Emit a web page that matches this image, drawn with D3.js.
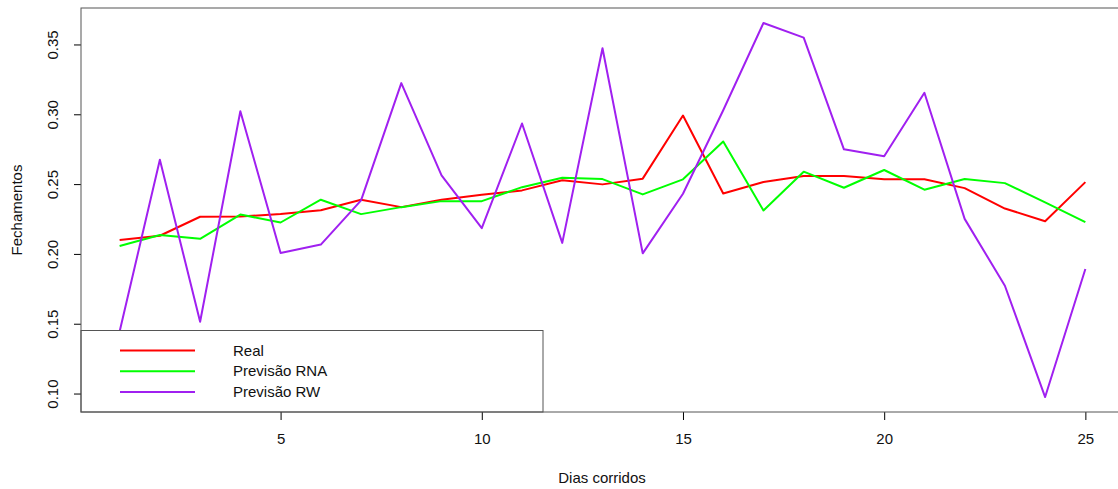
<!DOCTYPE html>
<html>
<head>
<meta charset="utf-8">
<script src="https://cdn.jsdelivr.net/npm/d3@7"></script>
<style>
  body { margin: 0; background: #fff; }
  svg { display: block; font-family: "Liberation Sans", Arial, sans-serif; }
</style>
</head>
<body>
<script>
var w = 1118;
var h = 489;

var dias = d3.range(1, 26);
var real = [0.210, 0.213, 0.2266, 0.2268, 0.2285, 0.2313, 0.2388, 0.2335, 0.2388, 0.2424,
    0.2455, 0.2527, 0.2498, 0.2539, 0.2991, 0.2433, 0.2515, 0.2558, 0.2558, 0.2534,
    0.2534, 0.2471, 0.2325, 0.2234, 0.2514];
var previsaoRNA = [0.2057, 0.2136, 0.2108, 0.2282, 0.2225, 0.2388, 0.2285, 0.2335, 0.2378, 0.2378,
    0.2478, 0.2546, 0.2536, 0.2426, 0.2534, 0.2805, 0.2311, 0.2589, 0.2474, 0.2601,
    0.2460, 0.2536, 0.2507, 0.2369, 0.2227];
var previsaoRW = [0.1445, 0.2675, 0.1514, 0.3022, 0.2007, 0.2067, 0.2383, 0.3223, 0.2562, 0.2184,
    0.2934, 0.2079, 0.3473, 0.2004, 0.2431, 0.3029, 0.3654, 0.3549, 0.2749, 0.2699,
    0.3154, 0.2251, 0.1772, 0.0975, 0.1892];
var xTicks = [5, 10, 15, 20, 25];
var yTicks = [0.10, 0.15, 0.20, 0.25, 0.30, 0.35];
var series = [
    {name: "Real", values: real, color: "#ff0000"},
    {name: "Previsão RNA", values: previsaoRNA, color: "#00ff00"},
    {name: "Previsão RW", values: previsaoRW, color: "#a020f0"}
];

// plot region like R's par defaults
var pLeft = 81, pTop = 8, pRight = 1124, pBottom = 412;

var all = real.concat(previsaoRNA, previsaoRW);
var yMin = d3.min(all), yMax = d3.max(all);
var yPad = (yMax - yMin) * 0.04;
var xPad = (25 - 1) * 0.04;

var x = d3.scaleLinear().domain([1 - xPad, 25 + xPad]).range([pLeft, pRight]);
var y = d3.scaleLinear().domain([yMin - yPad, yMax + yPad]).range([pBottom, pTop]);

var svg = d3.select("body")
    .append("svg")
    .attr("width", w)
    .attr("height", h);

svg.append("defs").append("clipPath")
    .attr("id", "plotclip")
    .append("rect")
    .attr("x", pLeft).attr("y", pTop)
    .attr("width", pRight - pLeft).attr("height", pBottom - pTop);

var line = d3.line()
    .x(function (d, i) { return x(dias[i]); })
    .y(function (d) { return y(d); });

var plot = svg.append("g").attr("clip-path", "url(#plotclip)");
plot.selectAll("path")
    .data(series)
    .enter()
    .append("path")
    .attr("d", function (d) { return line(d.values); })
    .attr("fill", "none")
    .attr("stroke", function (d) { return d.color; })
    .attr("stroke-width", 2)
    .attr("stroke-linejoin", "round");

// legend (white box over the lines, bottom-left)
var legTop = 330.5, legRight = 543;
var leg = svg.append("g");
leg.append("rect")
    .attr("x", pLeft).attr("y", legTop)
    .attr("width", legRight - pLeft).attr("height", pBottom - legTop)
    .attr("fill", "#fff")
    .attr("stroke", "#555")
    .attr("stroke-width", 1);
var legItems = leg.selectAll("g.item")
    .data(series)
    .enter()
    .append("g")
    .attr("class", "item")
    .attr("transform", function (d, i) { return "translate(0," + (350.5 + i * 20.7) + ")"; });
legItems.append("line")
    .attr("x1", 120).attr("x2", 195)
    .attr("stroke", function (d) { return d.color; })
    .attr("stroke-width", 2);
legItems.append("text")
    .attr("x", 233).attr("dy", "0.35em")
    .attr("font-size", 15)
    .attr("fill", "#111")
    .text(function (d) { return d.name; });

// axes
var xAxis = d3.axisBottom(x).tickValues(xTicks).tickSize(8).tickPadding(13).tickFormat(d3.format("d"));
var gx = svg.append("g").attr("transform", "translate(0," + pBottom + ")").call(xAxis);
gx.select(".domain").remove();
gx.selectAll("text").attr("font-size", 15).attr("fill", "#111").attr("font-family", "Liberation Sans, Arial, sans-serif");

var yAxis = d3.axisLeft(y).tickValues(yTicks).tickSize(7).tickFormat(d3.format(".2f"));
var gy = svg.append("g").attr("transform", "translate(" + pLeft + ",0)").call(yAxis);
gy.select(".domain").remove();
gy.selectAll("text")
    .attr("font-size", 15)
    .attr("fill", "#111")
    .attr("font-family", "Liberation Sans, Arial, sans-serif")
    .attr("text-anchor", "middle")
    .attr("transform", "rotate(-90)")
    .attr("x", 0)
    .attr("y", -28)
    .attr("dy", "0.35em");

// frame
svg.append("rect")
    .attr("x", pLeft).attr("y", pTop)
    .attr("width", pRight - pLeft).attr("height", pBottom - pTop)
    .attr("fill", "none")
    .attr("stroke", "#555")
    .attr("stroke-width", 1);

// axis titles
svg.append("text")
    .attr("x", 602).attr("y", 483)
    .attr("text-anchor", "middle")
    .attr("font-size", 15)
    .attr("fill", "#111")
    .text("Dias corridos");
svg.append("text")
    .attr("transform", "translate(22," + ((pTop + pBottom) / 2) + ") rotate(-90)")
    .attr("text-anchor", "middle")
    .attr("font-size", 15)
    .attr("fill", "#111")
    .text("Fechamentos");
</script>
</body>
</html>
